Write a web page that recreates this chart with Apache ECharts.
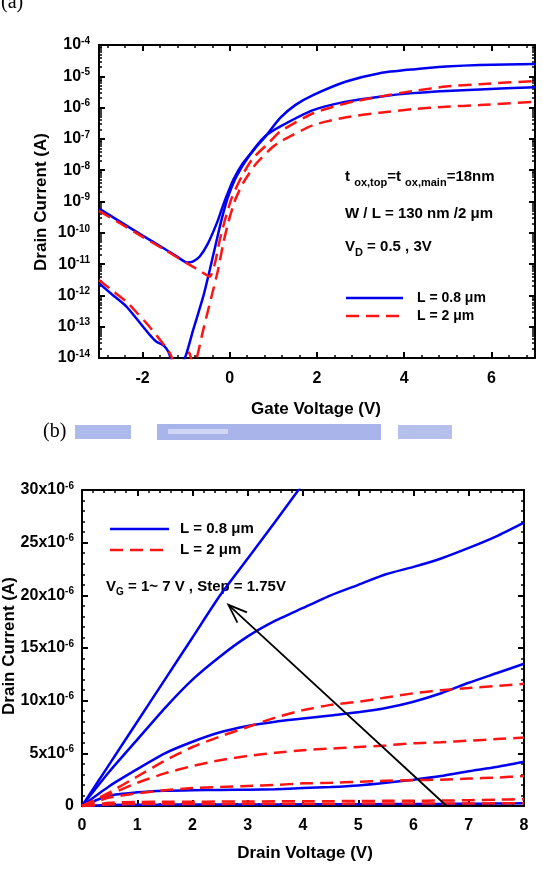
<!DOCTYPE html>
<html>
<head>
<meta charset="utf-8">
<script src="https://cdn.jsdelivr.net/npm/echarts@6/dist/echarts.min.js"></script>
<style>
  html, body { margin: 0; padding: 0; background: #fff; }
  #chart { width: 543px; height: 884px; }
</style>
</head>
<body>
<div id="chart"></div>
<script>
// ---- (a) transfer curves, [Vg (V), Id (A)] ----
const tfShort3V = [
  [-3, 5.9e-10], [-2.5, 2.2e-10], [-2, 8.1e-11], [-1.5, 3.1e-11], [-1.2, 1.7e-11],
  [-0.98, 1.12e-11], [-0.85, 1.2e-11], [-0.69, 1.75e-11], [-0.5, 4.6e-11], [-0.3, 2.0e-10],
  [-0.19, 5.4e-10], [-0.11, 1.1e-9], [0.08, 4.9e-9], [0.3, 1.66e-8], [0.61, 5.6e-8],
  [0.84, 1.3e-7], [1.15, 4.6e-7], [1.5, 1.2e-6], [1.91, 2.5e-6], [2.67, 6.8e-6],
  [3.44, 1.26e-5], [4.2, 1.66e-5], [4.96, 2.04e-5], [5.73, 2.3e-5], [7, 2.45e-5]
];
const tfShort05V = [
  [-3, 2.45e-12], [-2.7, 1.07e-12], [-2.37, 4.4e-13], [-2.1, 1.55e-13], [-1.83, 5.4e-14],
  [-1.68, 3.3e-14], [-1.53, 2.6e-14], [-1.41, 1.6e-14], [-1.3, 7e-15], [-1.1, 7e-15],
  [-1.0, 1.3e-14], [-0.84, 7.9e-14], [-0.61, 9.1e-13], [-0.46, 6.5e-12], [-0.3, 5.9e-11],
  [-0.19, 2.6e-10], [-0.04, 1.4e-9], [0.15, 6.2e-9], [0.46, 3.1e-8], [0.8, 1.17e-7],
  [1.15, 2.45e-7], [1.91, 8.3e-7], [2.67, 1.55e-6], [3.44, 2.24e-6], [4.2, 2.9e-6],
  [4.96, 3.4e-6], [5.73, 3.8e-6], [7, 4.5e-6]
];
const tfLong3V = [
  [-3, 5.0e-10], [-2.5, 1.94e-10], [-2, 7.4e-11], [-1.5, 2.9e-11], [-1, 1.1e-11],
  [-0.7, 6.3e-12], [-0.46, 4.0e-12], [-0.34, 1.07e-11], [-0.23, 5.9e-11], [-0.11, 2.6e-10],
  [0.04, 1.26e-9], [0.27, 6.2e-9], [0.53, 2.4e-8], [0.92, 8.1e-8], [1.15, 1.7e-7],
  [1.91, 6.6e-7], [2.67, 1.38e-6], [3.44, 2.24e-6], [4.2, 3.4e-6], [4.96, 4.7e-6],
  [5.73, 5.6e-6], [7, 7.1e-6]
];
const tfLong05V = [
  [-3, 3.1e-12], [-2.7, 1.45e-12], [-2.37, 6.3e-13], [-2.1, 2.5e-13], [-1.91, 1.29e-13],
  [-1.6, 3.8e-14], [-1.37, 1.4e-14], [-1.25, 6e-15], [-1.0, 5e-15], [-0.93, 1.5e-14],
  [-0.85, 7e-15], [-0.76, 1e-14], [-0.61, 7.9e-14], [-0.42, 9.1e-13], [-0.27, 6.5e-12],
  [-0.15, 4.6e-11], [-0.04, 2.0e-10], [0.11, 1.0e-9], [0.3, 3.8e-9], [0.61, 1.66e-8],
  [0.99, 5.6e-8], [1.15, 8.1e-8], [1.91, 2.75e-7], [2.67, 4.9e-7], [3.44, 6.9e-7],
  [4.2, 8.9e-7], [4.96, 1.07e-6], [5.73, 1.2e-6], [7, 1.55e-6]
];
const vgMajor = [-2, 0, 2, 4, 6];
const idDecadeExp = [-14, -13, -12, -11, -10, -9, -8, -7, -6, -5, -4];

// ---- (b) output curves, drain voltage (V) and Id (uA), lowest to highest VG ----
const vd = [0, 0.5, 1, 1.5, 2, 2.5, 3, 3.5, 4, 4.5, 5, 5.5, 6, 6.5, 7, 7.5, 8];
const idShort1 = [0, 0.1, 0.12, 0.13, 0.14, 0.14, 0.15, 0.15, 0.16, 0.17, 0.17, 0.18, 0.19, 0.2, 0.21, 0.23, 0.25];
const idShort2 = [0, 1.0, 1.3, 1.45, 1.5, 1.52, 1.55, 1.6, 1.7, 1.8, 1.95, 2.2, 2.5, 2.85, 3.3, 3.7, 4.2];
const idShort3 = [0, 1.9, 3.5, 5.0, 6.1, 7.0, 7.6, 8.0, 8.3, 8.6, 8.9, 9.3, 9.9, 10.7, 11.7, 12.6, 13.5];
const idShort4 = [0, 3.3, 6.3, 9.3, 12.0, 14.2, 16.1, 17.6, 18.8, 20.0, 21.0, 22.0, 22.7, 23.5, 24.5, 25.6, 26.9];
const idShort5 = [0, 4.0, 8.0, 12.0, 16.0, 20.0, 23.5, 27.0, 30.6];
const idLong1 = [0, 0.15, 0.18, 0.19, 0.2, 0.2, 0.21, 0.21, 0.22, 0.22, 0.23, 0.23, 0.24, 0.24, 0.24, 0.25, 0.25];
const idLong2 = [0, 0.3, 0.38, 0.4, 0.4, 0.42, 0.43, 0.44, 0.45, 0.46, 0.47, 0.49, 0.5, 0.52, 0.55, 0.6, 0.65];
const idLong3 = [0, 0.8, 1.2, 1.5, 1.7, 1.8, 1.9, 2.0, 2.15, 2.2, 2.3, 2.4, 2.45, 2.5, 2.6, 2.7, 2.85];
const idLong4 = [0, 1.1, 2.2, 3.1, 3.8, 4.35, 4.75, 5.05, 5.3, 5.45, 5.6, 5.75, 5.95, 6.05, 6.2, 6.35, 6.5];
const idLong5 = [0, 1.3, 2.8, 4.3, 5.6, 6.6, 7.5, 8.4, 9.1, 9.6, 9.9, 10.3, 10.7, 11.0, 11.2, 11.4, 11.6];
const arrowTail = [6.6, 0];
const arrowHead = [2.65, 19.1e-6];

const NAME_SHORT = 'L = 0.8 μm';
const NAME_LONG = 'L = 2 μm';
const BLUE = '#0000f0';
const RED = '#ff1414';
const FONT = '"Liberation Sans", Arial, sans-serif';
const DASH = [13, 7];

const chart = echarts.init(document.getElementById('chart'));

// tick positions (styling only)
const vgMinor = [];
for (let v = -2.8; v < 7; v += 0.4) {
  const r = Math.round(v * 10) / 10;
  if (!vgMajor.includes(r)) vgMinor.push(r);
}
const idDecades = idDecadeExp.map(e => Math.pow(10, e));
const idMinorLog = [];
idDecadeExp.slice(0, -1).forEach(e => {
  for (let k = 2; k <= 9; k++) idMinorLog.push(k * Math.pow(10, e));
});

const frameLine = { show: true, onZero: false, lineStyle: { color: '#000', width: 2 } };
const noLine = { show: false, onZero: false };
const majorTick = vals => ({ show: true, inside: true, length: 6, customValues: vals, lineStyle: { color: '#000', width: 2 } });
const minorTickC = vals => ({ show: true, inside: true, length: 3, customValues: vals, lineStyle: { color: '#000', width: 1.5 } });
const labelRich = {
  b: { fontSize: 16, fontWeight: 'bold', fontFamily: FONT, color: '#000', lineHeight: 18 },
  s: { fontSize: 10, fontWeight: 'bold', fontFamily: FONT, color: '#000', verticalAlign: 'top', lineHeight: 10 }
};

function curve(name, data, color, dashed, xi, yi) {
  return {
    type: 'line', name, data, xAxisIndex: xi, yAxisIndex: yi,
    symbol: 'none', smooth: 0.2, animation: false,
    lineStyle: { color, width: 2.5, type: dashed ? DASH : 'solid' },
    itemStyle: { color },
    z: dashed ? 4 : 3
  };
}
const toAmps = arr => arr.map((v, i) => [vd[i], v * 1e-6]);

const xAxes = [
  { gridIndex: 0, type: 'value', min: -3, max: 7, position: 'bottom', axisLine: frameLine,
    axisTick: majorTick(vgMajor), splitLine: { show: false },
    axisLabel: { customValues: vgMajor, margin: 13, fontSize: 16, fontWeight: 'bold', fontFamily: FONT, color: '#000' } },
  { gridIndex: 0, type: 'value', min: -3, max: 7, position: 'bottom', axisLine: noLine,
    axisTick: minorTickC(vgMinor), axisLabel: { show: false }, splitLine: { show: false } },
  { gridIndex: 0, type: 'value', min: -3, max: 7, position: 'top', axisLine: frameLine,
    axisTick: majorTick(vgMajor), axisLabel: { show: false }, splitLine: { show: false } },
  { gridIndex: 0, type: 'value', min: -3, max: 7, position: 'top', axisLine: noLine,
    axisTick: minorTickC(vgMinor), axisLabel: { show: false }, splitLine: { show: false } },
  { gridIndex: 1, type: 'value', min: 0, max: 8, interval: 1, position: 'bottom', axisLine: frameLine,
    axisTick: { inside: true, length: 6, lineStyle: { color: '#000', width: 2 } },
    minorTick: { show: true, splitNumber: 5, length: 3, lineStyle: { color: '#000', width: 1.5 } },
    splitLine: { show: false },
    axisLabel: { margin: 12, fontSize: 16, fontWeight: 'bold', fontFamily: FONT, color: '#000' } },
  { gridIndex: 1, type: 'value', min: 0, max: 8, interval: 1, position: 'top', axisLine: frameLine,
    axisTick: { inside: true, length: 6, lineStyle: { color: '#000', width: 2 } },
    minorTick: { show: true, splitNumber: 5, length: 3, lineStyle: { color: '#000', width: 1.5 } },
    splitLine: { show: false }, axisLabel: { show: false } }
];

const yAxes = [
  { gridIndex: 0, type: 'log', logBase: 10, min: 1e-14, max: 1e-4, position: 'left', axisLine: frameLine,
    axisTick: majorTick(idDecades), splitLine: { show: false },
    axisLabel: { customValues: idDecades, margin: 9, rich: labelRich,
      formatter: v => '{b|10}{s|' + Math.round(Math.log10(v)) + '}' } },
  { gridIndex: 0, type: 'log', logBase: 10, min: 1e-14, max: 1e-4, position: 'left', axisLine: noLine,
    axisTick: minorTickC(idMinorLog), axisLabel: { show: false }, splitLine: { show: false } },
  { gridIndex: 0, type: 'log', logBase: 10, min: 1e-14, max: 1e-4, position: 'right', axisLine: frameLine,
    axisTick: majorTick(idDecades), axisLabel: { show: false }, splitLine: { show: false } },
  { gridIndex: 0, type: 'log', logBase: 10, min: 1e-14, max: 1e-4, position: 'right', axisLine: noLine,
    axisTick: minorTickC(idMinorLog), axisLabel: { show: false }, splitLine: { show: false } },
  { gridIndex: 1, type: 'value', min: 0, max: 30e-6, interval: 5e-6, position: 'left', axisLine: frameLine,
    axisTick: { inside: true, length: 6, lineStyle: { color: '#000', width: 2 } },
    minorTick: { show: true, splitNumber: 5, length: 3, lineStyle: { color: '#000', width: 1.5 } },
    splitLine: { show: false },
    axisLabel: { margin: 8, rich: labelRich,
      formatter: v => v === 0 ? '{b|0}' : '{b|' + Math.round(v * 1e6) + 'x10}{s|-6}' } },
  { gridIndex: 1, type: 'value', min: 0, max: 30e-6, interval: 5e-6, position: 'right', axisLine: frameLine,
    axisTick: { inside: true, length: 6, lineStyle: { color: '#000', width: 2 } },
    minorTick: { show: true, splitNumber: 5, length: 3, lineStyle: { color: '#000', width: 1.5 } },
    splitLine: { show: false }, axisLabel: { show: false } }
];

const series = [
  curve(NAME_SHORT, tfShort3V, BLUE, false, 0, 0),
  curve(NAME_SHORT, tfShort05V, BLUE, false, 0, 0),
  curve(NAME_LONG, tfLong3V, RED, true, 0, 0),
  curve(NAME_LONG, tfLong05V, RED, true, 0, 0)
];
[idShort1, idShort2, idShort3, idShort4, idShort5].forEach(a => series.push(curve(NAME_SHORT, toAmps(a), BLUE, false, 4, 4)));
[idLong1, idLong2, idLong3, idLong4, idLong5].forEach(a => series.push(curve(NAME_LONG, toAmps(a), RED, true, 4, 4)));

// VG sweep arrow with an open head
series.push({
  type: 'custom', name: 'arrow', xAxisIndex: 4, yAxisIndex: 4, silent: true, z: 6,
  data: [[arrowTail[0], arrowTail[1], arrowHead[0], arrowHead[1]]],
  renderItem: (params, api) => {
    const p0 = api.coord([api.value(0), api.value(1)]);
    const p1 = api.coord([api.value(2), api.value(3)]);
    const ang = Math.atan2(p1[1] - p0[1], p1[0] - p0[0]);
    const len = 20, spread = 0.36;
    const a1 = [p1[0] - len * Math.cos(ang - spread), p1[1] - len * Math.sin(ang - spread)];
    const a2 = [p1[0] - len * Math.cos(ang + spread), p1[1] - len * Math.sin(ang + spread)];
    return {
      type: 'group',
      children: [
        { type: 'line', shape: { x1: p0[0], y1: p0[1], x2: p1[0], y2: p1[1] }, style: { stroke: '#000', lineWidth: 1.8 } },
        { type: 'polyline', shape: { points: [a1, p1, a2] }, style: { stroke: '#000', lineWidth: 1.8, fill: null } }
      ]
    };
  }
});

const txt = (x, y, text, size, extra) => ({
  type: 'text', x, y, silent: true, ...extra,
  style: Object.assign({ text, fill: '#000', font: 'bold ' + size + 'px ' + FONT }, (extra && extra.style) || {})
});
const annRich = {
  m: { fontSize: 15, fontWeight: 'bold', fontFamily: FONT, color: '#000', lineHeight: 16, verticalAlign: 'top' },
  s: { fontSize: 11, fontWeight: 'bold', fontFamily: FONT, color: '#000', lineHeight: 11, verticalAlign: 'top', padding: [8, 0, 0, 0] }
};
const annRichB = {
  m: { fontSize: 15, fontWeight: 'bold', fontFamily: FONT, color: '#000', lineHeight: 16, verticalAlign: 'top' },
  s: { fontSize: 10, fontWeight: 'bold', fontFamily: FONT, color: '#000', lineHeight: 10, verticalAlign: 'top', padding: [8, 0, 0, 0] }
};
const legendRow = (x1, x2, y, color, dashed, label, size, tx) => [
  { type: 'line', silent: true, shape: { x1, y1: y, x2, y2: y },
    style: { stroke: color, lineWidth: 2.5, lineDash: dashed ? DASH : null } },
  txt(tx, y, label, size, { style: { verticalAlign: 'middle' } })
];

const graphic = [
  { type: 'text', x: 1, y: -7, silent: true, style: { text: '(a)', fill: '#000', font: '20px "Liberation Serif", serif' } },
  { type: 'text', x: 43, y: 432, silent: true, style: { text: '(b)', fill: '#000', font: '20px "Liberation Serif", serif', verticalAlign: 'middle' } },
  // washed-out blue strip beside (b)
  { type: 'rect', silent: true, shape: { x: 75, y: 425, width: 56, height: 14 }, style: { fill: 'rgba(110,130,220,0.55)' } },
  { type: 'rect', silent: true, shape: { x: 157, y: 424, width: 224, height: 16 }, style: { fill: 'rgba(110,130,220,0.6)' } },
  { type: 'rect', silent: true, shape: { x: 168, y: 429, width: 60, height: 5 }, style: { fill: 'rgba(255,255,255,0.45)' } },
  { type: 'rect', silent: true, shape: { x: 398, y: 425, width: 54, height: 14 }, style: { fill: 'rgba(110,130,220,0.5)' } },
  // axis titles
  txt(316, 409, 'Gate Voltage (V)', 17, { style: { align: 'center', verticalAlign: 'middle' } }),
  txt(41, 202, 'Drain Current (A)', 17, { rotation: Math.PI / 2, style: { align: 'center', verticalAlign: 'middle' } }),
  txt(305, 853, 'Drain Voltage (V)', 17, { style: { align: 'center', verticalAlign: 'middle' } }),
  txt(9, 646, 'Drain Current (A)', 17, { rotation: Math.PI / 2, style: { align: 'center', verticalAlign: 'middle' } }),
  // (a) annotations
  { type: 'text', x: 345, y: 169, silent: true, style: { text: '{m|t }{s|ox,top}{m|=t }{s|ox,main}{m|=18nm}', rich: annRich } },
  { type: 'text', x: 345, y: 206, silent: true, style: { text: '{m|W / L = 130 nm /2 μm}', rich: annRich } },
  { type: 'text', x: 345, y: 239, silent: true, style: { text: '{m|V}{s|D}{m| = 0.5 , 3V}', rich: annRich } },
  ...legendRow(346, 403, 298, BLUE, false, NAME_SHORT, 14, 417),
  ...legendRow(346, 403, 316, RED, true, NAME_LONG, 14, 417),
  // (b) annotations
  { type: 'text', x: 106, y: 579, silent: true, style: { text: '{m|V}{s|G}{m| = 1~ 7 V , Step = 1.75V}', rich: annRichB } },
  ...legendRow(110, 169, 529, BLUE, false, NAME_SHORT, 15, 180),
  ...legendRow(110, 169, 550, RED, true, NAME_LONG, 15, 180)
];

chart.setOption({
  animation: false,
  backgroundColor: '#fff',
  grid: [
    { left: 99, top: 45, width: 436, height: 313 },
    { left: 82, top: 490, width: 442, height: 316 }
  ],
  xAxis: xAxes,
  yAxis: yAxes,
  series,
  graphic
});
</script>
</body>
</html>
